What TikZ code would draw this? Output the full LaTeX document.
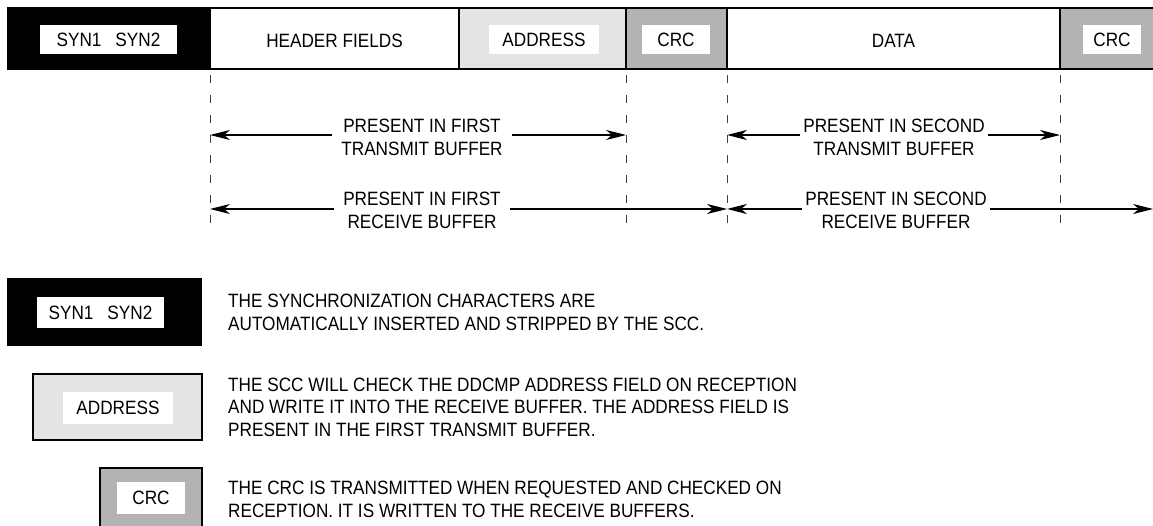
\documentclass[tikz,border=0pt]{standalone}
\usepackage{fontspec}
\setmainfont{Liberation Sans}[FakeStretch=0.89]
\usetikzlibrary{arrows.meta}
\definecolor{addrgray}{HTML}{E4E4E4}
\definecolor{crcgray}{HTML}{B3B3B3}
\begin{document}
\begin{tikzpicture}[x=1pt,y=-1pt,
  every node/.style={font=\fontsize{19.3}{23}\selectfont, inner sep=0pt},
  field/.style={draw=black, line width=1.4pt, minimum height=61pt},
  tag/.style={fill=white, minimum height=29pt},
  legbox/.style={draw=black, line width=1.4pt, minimum height=66pt},
  guide/.style={draw=black!75, line width=1pt, dash pattern=on 8pt off 12pt},
  dimarrow/.style={draw=black, line width=1.2pt, -{Stealth[length=20pt,width=10pt,inset=6pt]}},
  lbl/.style={align=center, inner xsep=9pt},
  legtxt/.style={anchor=base west}]
\useasboundingbox (0,0) rectangle (1153,526);
\fill[white] (0,0) rectangle (1153,526);

% ---- frame band ----
\node[field, fill=black, minimum width=202pt] (fsyn) at (109,38.5) {};
\node[field, fill=white, minimum width=249pt] (fhdr) at (334.5,38.5) {};
\node[field, fill=addrgray, minimum width=167pt] (faddr) at (542.5,38.5) {};
\node[field, fill=crcgray, minimum width=101pt] (fcrc) at (676.5,38.5) {};
\node[field, fill=white, minimum width=333pt] (fdata) at (893.5,38.5) {};
\node[field, fill=crcgray, minimum width=110pt] (fcrc2) at (1115,38.5) {};

\node[tag, minimum width=137pt] (tsyn) at (108.5,39.5) {SYN1\hspace{14pt}SYN2};
\node (thdr) at (334.5,40.5) {HEADER FIELDS};
\node[tag, minimum width=110pt] (taddr) at (544,39.5) {ADDRESS};
\node[tag, minimum width=68pt] (tcrc) at (676,39.5) {CRC};
\node (tdata) at (893.5,40.5) {DATA};
\node[tag, minimum width=58pt] (tcrc2) at (1112,39.5) {CRC};

% ---- guide lines ----
\coordinate (g1t) at (210,75);  \coordinate (g1b) at (210,226);
\coordinate (g2t) at (626,75);  \coordinate (g2b) at (626,226);
\coordinate (g3t) at (727,75);  \coordinate (g3b) at (727,226);
\coordinate (g4t) at (1060,75); \coordinate (g4b) at (1060,226);
\draw[guide] (g1t) -- (g1b);
\draw[guide] (g2t) -- (g2b);
\draw[guide] (g3t) -- (g3b);
\draw[guide] (g4t) -- (g4b);

% ---- buffer arrows ----
\coordinate (ty) at (0,135);
\coordinate (ry) at (0,209);
\coordinate (rend) at (1153,209);

\node[lbl] (lt1) at (422,137.5) {PRESENT IN FIRST\\TRANSMIT BUFFER};
\node[lbl] (lr1) at (422,210.5) {PRESENT IN FIRST\\RECEIVE BUFFER};
\node[lbl, inner xsep=3pt] (lt2) at (894,137.5) {PRESENT IN SECOND\\TRANSMIT BUFFER};
\node[lbl, inner xsep=3pt] (lr2) at (896,210.5) {PRESENT IN SECOND\\RECEIVE BUFFER};

\draw[dimarrow] (lt1.west |- ty) -- (g1t |- ty);
\draw[dimarrow] (lt1.east |- ty) -- (g2t |- ty);
\draw[dimarrow] (lr1.west |- ry) -- (g1t |- ry);
\draw[dimarrow] (lr1.east |- ry) -- (g3t |- ry);
\draw[dimarrow] (lt2.west |- ty) -- (g3t |- ty);
\draw[dimarrow] (lt2.east |- ty) -- (g4t |- ty);
\draw[dimarrow] (lr2.west |- ry) -- (g3t |- ry);
\draw[dimarrow] (lr2.east |- ry) -- (rend);

% ---- legend ----
\node[legbox, fill=black, minimum width=193pt] (ksyn) at (104.5,312) {};
\node[tag, minimum width=127pt, minimum height=31pt] (ksynt) at (100.5,312.5) {SYN1\hspace{14pt}SYN2};
\node[legtxt] (k1a) at (228,307.5) {THE SYNCHRONIZATION CHARACTERS ARE};
\node[legtxt] (k1b) at (228,330.5) {AUTOMATICALLY INSERTED AND STRIPPED BY THE SCC.};

\node[legbox, fill=addrgray, minimum width=169pt] (kaddr) at (117.5,407) {};
\node[tag, minimum width=110pt, minimum height=32pt] (kaddrt) at (118,408) {ADDRESS};
\node[legtxt] (k2a) at (228,391) {THE SCC WILL CHECK THE DDCMP ADDRESS FIELD ON RECEPTION};
\node[legtxt] (k2b) at (228,413.5) {AND WRITE IT INTO THE RECEIVE BUFFER. THE ADDRESS FIELD IS};
\node[legtxt] (k2c) at (228,436) {PRESENT IN THE FIRST TRANSMIT BUFFER.};

\node[legbox, fill=crcgray, minimum width=102pt, minimum height=80pt] (kcrc) at (151,508) {};
\node[tag, minimum width=68pt, minimum height=32pt] (kcrct) at (151,498) {CRC};
\node[legtxt] (k3a) at (228,494.5) {THE CRC IS TRANSMITTED WHEN REQUESTED AND CHECKED ON};
\node[legtxt] (k3b) at (228,517) {RECEPTION. IT IS WRITTEN TO THE RECEIVE BUFFERS.};
\end{tikzpicture}
\end{document}
